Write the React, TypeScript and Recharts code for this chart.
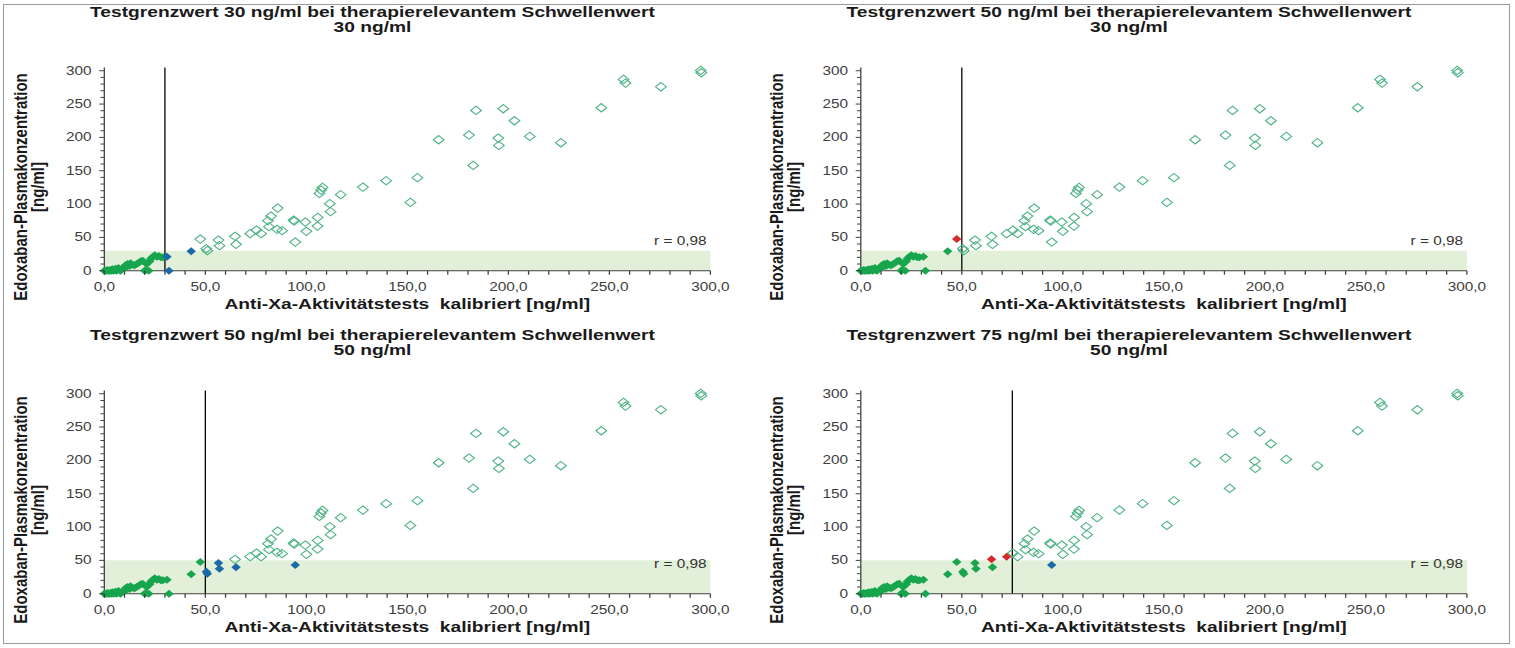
import React from 'react';
import { ScatterChart, Scatter, XAxis, YAxis, ReferenceArea, ReferenceLine } from 'recharts';

// Anti-Xa-Aktivität (x) und Edoxaban-Plasmakonzentration (y), gleiche Proben in allen vier Panels
const antiXa = [
  0, 0.5, 1, 1.5, 2, 2.5, 3, 3.5, 4, 4.5, 5, 5.5, 6, 6.5, 7, 7.5, 8, 8.5, 9, 10,
  10.5, 11, 11.5, 12, 12.5, 13, 14, 15, 16, 17, 18, 19, 20, 20.5, 21, 22, 22.5, 23, 24, 25,
  26, 27, 28, 29, 31, 32, 43, 47.5, 50.5, 51, 56.5, 57, 64.7, 65.2, 72.2, 75.3, 77.6, 81, 81.5, 82.5,
  85.5, 85.8, 88, 93.7, 94, 94.5, 99.5, 100, 105.5, 105.6, 106.5, 107.3, 108, 111.6, 112, 117, 128, 139.5, 151.5, 155,
  165.5, 180.5, 182.6, 184, 195, 195.3, 197.5, 203, 210.6, 226, 246, 257, 258, 275.5, 295.2, 295.5,
];
const plasma = [
  0, 0, 0, 1, 0, 0, 1, 0, 2, 0, 1, 3, 0, 2, 4, 1, 0, 2, 3, 5,
  8, 6, 10, 9, 7, 11, 9, 8, 10, 12, 14, 15, 0, 1, 10, 0, 14, 18, 21, 23,
  21, 22, 20, 20, 21, 0, 29, 47.5, 33, 30, 46, 37.5, 51.5, 39.5, 55.5, 61, 55.5, 75, 66, 82,
  62, 94, 60, 76, 74.5, 43, 73, 59, 67, 80, 116, 121, 125, 100.5, 88.5, 114, 125.5, 135, 102.5, 139.5,
  196.5, 203.5, 158, 240.5, 199, 188, 243, 225, 201.5, 192, 244.5, 287, 281.5, 276, 300.5, 297,
];

const testCutoffs = [30, 50, 50, 75];
const therapyThresholds = [30, 30, 50, 50];
const titleLines = [
  ['Testgrenzwert 30 ng/ml bei therapierelevantem Schwellenwert', '30 ng/ml'],
  ['Testgrenzwert 50 ng/ml bei therapierelevantem Schwellenwert', '30 ng/ml'],
  ['Testgrenzwert 50 ng/ml bei therapierelevantem Schwellenwert', '50 ng/ml'],
  ['Testgrenzwert 75 ng/ml bei therapierelevantem Schwellenwert', '50 ng/ml'],
];
const xTicks = [0, 10, 20, 30, 40, 50, 60, 70, 80, 90, 100, 110, 120, 130, 140, 150, 160, 170, 180, 190, 200, 210, 220, 230, 240, 250, 260, 270, 280, 290, 300];
const yTicks = [0, 10, 20, 30, 40, 50, 60, 70, 80, 90, 100, 110, 120, 130, 140, 150, 160, 170, 180, 190, 200, 210, 220, 230, 240, 250, 260, 270, 280, 290, 300];
const xLabel = 'Anti-Xa-Aktivitätstests  kalibriert [ng/ml]';
const yLabel = ['Edoxaban-Plasmakonzentration', '[ng/ml]'];
const rLabel = 'r = 0,98';

// the reference is stretched horizontally, so everything is drawn narrow and scaled
const STRETCH = 1.28;
const PANEL_W = 592;
const PANEL_H = 322;
const Y_AXIS_W = 81.5;
const X_AXIS_H = 51.3;
const PLOT_TOP = 67.4;
const RIGHT = 37;
const panelPos = [
  { left: 0, top: 0 },
  { left: 590.5, top: 0 },
  { left: 0, top: 322.5 },
  { left: 590.5, top: 322.5 },
];

const FONT = '"Liberation Sans", Arial, sans-serif';
const AXIS = '#404040';
const GREEN = '#17a54d';
const BLUE = '#1b6aa8';
const RED = '#d42a2a';
const OPEN = '#4fb386';
const BAND = '#e2efd9';

const XTick = (props: any) => {
  const { x, y, payload } = props;
  const v = payload.value;
  return (
    <g>
      <line x1={x} x2={x} y1={y} y2={y + 4} stroke={AXIS} />
      {v % 50 === 0 && (
        <text x={x} y={y + 20} textAnchor="middle" fontSize={12} fontFamily={FONT} fill={AXIS}>
          {v.toFixed(1).replace('.', ',')}
        </text>
      )}
    </g>
  );
};

const YTick = (props: any) => {
  const { x, y, payload } = props;
  const v = payload.value;
  const major = v % 50 === 0;
  return (
    <g>
      <line x1={x - (major ? 4 : 3)} x2={x} y1={y} y2={y} stroke={AXIS} />
      {major && (
        <text x={x - 10} y={y + 4} textAnchor="end" fontSize={12} fontFamily={FONT} fill={AXIS}>
          {v}
        </text>
      )}
    </g>
  );
};

const filledDiamond = (color: string) => (props: any) => {
  const { cx, cy } = props;
  return (
    <polygon
      points={`${cx},${cy - 4} ${cx + 3.7},${cy} ${cx},${cy + 4} ${cx - 3.7},${cy}`}
      fill={color}
    />
  );
};

const openDiamond = (props: any) => {
  const { cx, cy } = props;
  return (
    <polygon
      points={`${cx},${cy - 4.2} ${cx + 4.2},${cy} ${cx},${cy + 4.2} ${cx - 4.2},${cy}`}
      fill="none"
      stroke={OPEN}
      strokeWidth={1}
    />
  );
};

const Panel = ({ idx }: { idx: number }) => {
  const cutoff = testCutoffs[idx];
  const thr = therapyThresholds[idx];
  const pts = antiXa.map((x, i) => ({ x, y: plasma[i] }));
  const trueNeg = pts.filter((p) => p.x < cutoff && p.y < thr);
  const falseNeg = pts.filter((p) => p.x < cutoff && p.y >= thr);
  const falsePos = pts.filter((p) => p.x >= cutoff && p.y < thr);
  const truePos = pts.filter((p) => p.x >= cutoff && p.y >= thr);
  const plotCx = Y_AXIS_W + (PANEL_W - Y_AXIS_W - RIGHT) / 2;
  const pos = panelPos[idx];

  return (
    <div style={{ position: 'absolute', left: pos.left, top: pos.top, width: PANEL_W, height: PANEL_H }}>
      <ScatterChart width={PANEL_W} height={PANEL_H} margin={{ top: PLOT_TOP, right: RIGHT, bottom: 0, left: 0 }}>
        <ReferenceArea x1={0} x2={300} y1={0} y2={thr} fill={BAND} fillOpacity={1} stroke="none" />
        <XAxis
          type="number"
          dataKey="x"
          domain={[0, 300]}
          ticks={xTicks}
          interval={0}
          height={X_AXIS_H}
          tickSize={0}
          tickMargin={0}
          tickLine={false}
          axisLine={{ stroke: AXIS }}
          tick={<XTick />}
        />
        <YAxis
          type="number"
          dataKey="y"
          domain={[0, 305]}
          ticks={yTicks}
          interval={0}
          width={Y_AXIS_W}
          tickSize={0}
          tickMargin={0}
          tickLine={false}
          axisLine={{ stroke: AXIS }}
          tick={<YTick />}
        />
        <Scatter data={truePos} shape={openDiamond} isAnimationActive={false} />
        <Scatter data={trueNeg} shape={filledDiamond(GREEN)} isAnimationActive={false} />
        <Scatter data={falsePos} shape={filledDiamond(BLUE)} isAnimationActive={false} />
        <Scatter data={falseNeg} shape={filledDiamond(RED)} isAnimationActive={false} />
        <ReferenceLine x={cutoff} stroke="#000" strokeWidth={1} />
      </ScatterChart>
      <svg
        width={PANEL_W}
        height={PANEL_H}
        style={{ position: 'absolute', left: 0, top: 0, pointerEvents: 'none' }}
        fontFamily={FONT}
      >
        <text x={291} y={17} textAnchor="middle" fontSize={15} fontWeight="bold" fill="#1a1a1a">
          {titleLines[idx][0]}
        </text>
        <text x={291} y={32} textAnchor="middle" fontSize={15} fontWeight="bold" fill="#1a1a1a">
          {titleLines[idx][1]}
        </text>
        <text
          x={plotCx}
          y={309}
          textAnchor="middle"
          fontSize={15}
          fontWeight="bold"
          fill="#1a1a1a"
          style={{ whiteSpace: 'pre' }}
        >
          {xLabel}
        </text>
        <text
          transform="translate(15.6,187) rotate(-90)"
          textAnchor="middle"
          dominantBaseline="central"
          fontSize={15}
          fontWeight="bold"
          fill="#1a1a1a"
        >
          {yLabel[0]}
        </text>
        <text
          transform="translate(28.9,187) rotate(-90)"
          textAnchor="middle"
          dominantBaseline="central"
          fontSize={15}
          fontWeight="bold"
          fill="#1a1a1a"
        >
          {yLabel[1]}
        </text>
        <text x={552} y={245} textAnchor="end" fontSize={12} fill="#333">
          {rLabel}
        </text>
      </svg>
    </div>
  );
}

export default function App() {
  return (
    <div style={{ position: 'absolute', left: 0, top: 0, width: 1515, height: 648, background: '#fff', overflow: 'hidden' }}>
      <div
        style={{
          position: 'absolute',
          left: 0,
          top: 0,
          width: 1515 / STRETCH,
          height: 648,
          transform: `scaleX(${STRETCH})`,
          transformOrigin: '0 0',
        }}
      >
        {[0, 1, 2, 3].map((i) => (
          <Panel key={i} idx={i} />
        ))}
      </div>
      <div
        style={{
          position: 'absolute',
          left: 3,
          top: 4,
          width: 1507,
          height: 640,
          border: '1px solid #9a9a9a',
          boxSizing: 'border-box',
          pointerEvents: 'none',
        }}
      />
    </div>
  );
}
